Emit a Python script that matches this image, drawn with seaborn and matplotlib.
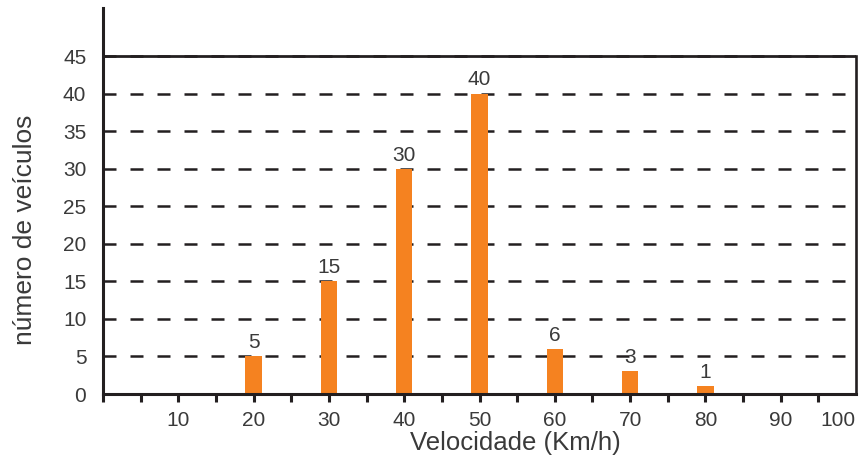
import numpy as np
import pandas as pd
import matplotlib
matplotlib.use("Agg")
import matplotlib.pyplot as plt
import seaborn as sns

# data
velocidade = [20, 30, 40, 50, 60, 70, 80]
veiculos = [5, 15, 30, 40, 6, 3, 1]
y_ticks = [0, 5, 10, 15, 20, 25, 30, 35, 40, 45]
x_ticks = [0, 5, 10, 15, 20, 25, 30, 35, 40, 45, 50, 55, 60, 65, 70, 75, 80, 85, 90, 95, 100]
x_labels = ["", "", "10", "", "20", "", "30", "", "40", "", "50", "", "60", "", "70", "", "80", "", "90", "", "100"]

bar_color = "#F58220"
line_color = "#231F20"
text_color = "#3A3A3A"

sns.set_theme(style="white")
plt.rcParams["font.family"] = ["Liberation Sans", "DejaVu Sans"]

df = pd.DataFrame({"velocidade": velocidade, "veiculos": veiculos})

fig = plt.figure(figsize=(8.59, 4.62), dpi=100)
ax = fig.add_axes([103 / 859, 1 - 394 / 462, 753 / 859, (394 - 8) / 462])

sns.barplot(data=df, x="velocidade", y="veiculos", native_scale=True,
            width=0.22, color=bar_color, saturation=1, errorbar=None,
            linewidth=0, ax=ax, zorder=3)

ax.set_xlim(0, 100)
ax.set_ylim(0, 51.4)

# dashed horizontal guides
ax.set_yticks(y_ticks)
ax.yaxis.grid(True, color=line_color, linestyle=(0, (5.2, 5.6)), linewidth=1.8)
ax.set_axisbelow(True)
ax.axhline(45, color=line_color, linewidth=2.0, zorder=4)

# spines
ax.spines["top"].set_visible(False)
for side in ["left", "bottom", "right"]:
    ax.spines[side].set_color(line_color)
ax.spines["left"].set_linewidth(2.2)
ax.spines["bottom"].set_linewidth(2.2)
ax.spines["right"].set_linewidth(1.9)
ax.spines["right"].set_bounds(0, 45)
ax.spines["left"].set_zorder(5)
ax.spines["bottom"].set_zorder(5)

ax.set_xticks(x_ticks)
ax.set_xticklabels(x_labels)
ax.tick_params(axis="x", direction="out", length=6, width=2.2, color=line_color,
               pad=6, labelsize=15, labelcolor=text_color, bottom=True)
ax.tick_params(axis="y", length=0, pad=12, labelsize=15, labelcolor=text_color)
ax.xaxis.get_major_ticks()[-1].tick1line.set_visible(False)
ax.get_xticklabels()[-1].set_horizontalalignment("right")

for cont in ax.containers:
    ax.bar_label(cont, labels=[str(v) for v in veiculos], padding=3,
                 fontsize=15, color=text_color)

ax.set_xlabel("Velocidade (Km/h)", fontsize=18.5, color=text_color)
ax.set_ylabel("número de veículos", fontsize=19, color=text_color)
ax.xaxis.set_label_coords(0.547, -0.096)
ax.yaxis.set_label_coords(-0.087, 0.425)
ax.xaxis.label.set_verticalalignment("top")

fig.savefig("out.png", dpi=100)
